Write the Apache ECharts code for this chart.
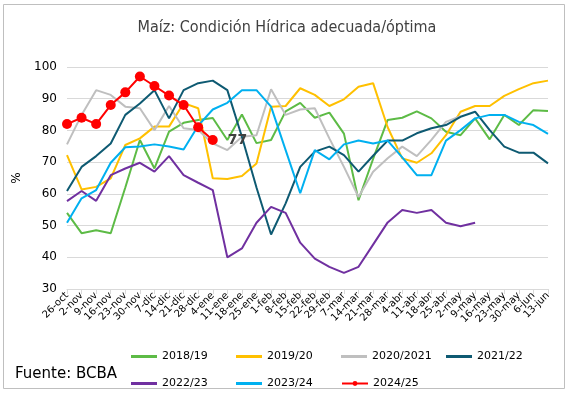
<!DOCTYPE html>
<html>
<head>
<meta charset="utf-8">
<script src="https://cdn.jsdelivr.net/npm/echarts@6/dist/echarts.min.js"></script>
<style>
  html, body { margin: 0; padding: 0; background: #fff; }
  #chart { width: 574px; height: 396px; }
</style>
</head>
<body>
<div id="chart"></div>
<script>
const weeks = ['26-oct', '2-nov', '9-nov', '16-nov', '23-nov', '30-nov', '7-dic', '14-dic', '21-dic', '28-dic',
  '4-ene', '11-ene', '18-ene', '25-ene', '1-feb', '8-feb', '15-feb', '22-feb', '29-feb', '7-mar',
  '14-mar', '21-mar', '28-mar', '4-abr', '11-abr', '18-abr', '25-abr', '2-may', '9-may', '16-may',
  '23-may', '30-may', '6-jun', '13-jun'];

const c1819 = [54, 47.6, 48.5, 47.6, 62, 77, 68, 79.6, 82.4, 83.3, 83.9, 77, 85, 76, 77, 86, 88.7, 84, 85.6, 79,
  58, 71, 83.3, 84, 86, 83.8, 79.6, 78.5, 83.8, 77.2, 84.9, 81.7, 86.4, 86.1];
const c1920 = [72.2, 61.4, 62.2, 64.9, 75.4, 77.5, 81.2, 81.2, 88.6, 87, 64.9, 64.7, 65.6, 69.6, 87.5, 87.7, 93.3, 91.2, 87.7, 89.8,
  93.8, 94.9, 81, 71.2, 69.8, 72.8, 78.5, 85.9, 87.7, 87.7, 90.9, 93, 94.9, 95.7];
const c2021 = [75.6, 84.9, 92.7, 91.2, 87.5, 87, 80.1, 87.7, 80.7, 80.1, 75.9, 73.8, 78, 78.5, 93, 84.9, 86.6, 87, 77.5, 68.5,
  59, 67, 71.2, 74.9, 71.9, 77, 82.7, 84.5];
const c2122 = [60.9, 68.5, 71.9, 75.9, 84.9, 88.5, 92.7, 83.8, 92.7, 94.9, 95.7, 92.7, 78, 62, 47.2, 57, 68.5, 73.3, 74.9, 72.2,
  67, 72, 76.8, 76.8, 79.1, 80.7, 81.7, 84.3, 85.9, 80.1, 74.9, 73, 73, 69.6];
const c2223 = [57.7, 60.9, 57.8, 65.9, 68, 69.8, 67, 71.9, 65.9, 63.5, 61.2, 40, 42.8, 50.9, 55.9, 54, 44.6, 39.6, 37, 35.1,
  37, 44, 51, 54.9, 54, 54.9, 50.9, 49.8, 50.9];
const c2324 = [50.9, 58.6, 61.2, 69.8, 74.7, 74.9, 75.6, 74.9, 74, 81.5, 86.6, 88.7, 92.7, 92.7, 87.5, 73.8, 60.2, 73.8, 70.9, 75.6,
  76.8, 75.9, 76.8, 71.5, 65.9, 65.9, 76.8, 80.1, 83.8, 84.9, 84.9, 82.7, 81.7, 78.9];
const c2425 = [82, 84, 82, 88, 92, 97, 94, 91, 88, 81, 77];

const yTicks = { min: 30, max: 100, step: 10 };

const seriesDefs = [
  { name: '2018/19', data: c1819, color: '#5DBB46' },
  { name: '2019/20', data: c1920, color: '#FFC000' },
  { name: '2020/2021', data: c2021, color: '#BFBFBF' },
  { name: '2021/22', data: c2122, color: '#0E5A72' },
  { name: '2022/23', data: c2223, color: '#7030A0' },
  { name: '2023/24', data: c2324, color: '#00B0F0' },
  { name: '2024/25', data: c2425, color: '#FF0000' },
];

const lineIcon = 'path://M0,0 L26,0 L26,3 L0,3 Z';

const series = seriesDefs.map((s, idx) => {
  const isLast = idx === seriesDefs.length - 1;
  return {
    name: s.name,
    type: 'line',
    data: s.data,
    symbol: isLast ? 'circle' : 'none',
    symbolSize: 10,
    z: isLast ? 10 : 2,
    lineStyle: { width: 2, color: s.color },
    itemStyle: { color: s.color },
    emphasis: { disabled: true },
    label: {
      show: isLast,
      position: 'right',
      distance: 10,
      color: '#404040',
      fontSize: 14,
      fontWeight: 'bold',
      fontFamily: 'DejaVu Sans',
      formatter: (p) => (p.dataIndex === s.data.length - 1 ? String(p.value) : ''),
    },
  };
});

// one legend per entry, laid out as the 4 + 3 grid in the picture
const legends = seriesDefs.map((s, idx) => {
  const isLast = idx === seriesDefs.length - 1;
  return {
    data: [isLast ? { name: s.name } : { name: s.name, icon: lineIcon }],
    left: 126 + (idx % 4) * 105,
    top: idx < 4 ? 346 : 373,
    itemWidth: 26,
    itemHeight: isLast ? 6 : 3,
    itemGap: 3,
    textStyle: { fontSize: 11, color: '#000', fontFamily: 'DejaVu Sans' },
  };
});

const chart = echarts.init(document.getElementById('chart'));
chart.setOption({
  animation: false,
  title: {
    text: 'Maíz: Condición Hídrica adecuada/óptima',
    left: 'center',
    top: 15,
    textStyle: {
      fontSize: 16,
      fontWeight: 'normal',
      color: '#404040',
      fontFamily: '"DejaVu Sans Condensed", "Liberation Sans Narrow", Inter, sans-serif',
    },
  },
  legend: legends,
  grid: { left: 67, right: 26, top: 67, bottom: 107 },
  xAxis: {
    type: 'category',
    boundaryGap: false,
    data: weeks,
    axisLine: { lineStyle: { color: '#D9D9D9' } },
    axisTick: { show: true, lineStyle: { color: '#D9D9D9' } },
    axisLabel: { interval: 0, rotate: 45, fontSize: 10, color: '#000', fontFamily: 'DejaVu Sans', margin: 5 },
  },
  yAxis: {
    type: 'value',
    min: yTicks.min,
    max: yTicks.max,
    interval: yTicks.step,
    name: '%',
    nameLocation: 'middle',
    nameGap: 38,
    nameTextStyle: { fontSize: 12, color: '#000', fontFamily: 'DejaVu Sans' },
    axisLine: { show: false },
    axisTick: { show: false },
    axisLabel: { fontSize: 12, color: '#000', fontFamily: 'DejaVu Sans', margin: 10 },
    splitLine: { lineStyle: { color: '#D9D9D9' } },
  },
  graphic: [
    {
      type: 'rect',
      shape: { x: 3.5, y: 4.5, width: 561, height: 384 },
      style: { fill: 'none', stroke: '#BFBFBF', lineWidth: 1 },
      silent: true,
    },
    {
      type: 'text',
      left: 15,
      top: 367,
      style: { text: 'Fuente: BCBA', fontSize: 15, fill: '#000', fontFamily: 'DejaVu Sans' },
    },
  ],
  series: series,
});
</script>
</body>
</html>
